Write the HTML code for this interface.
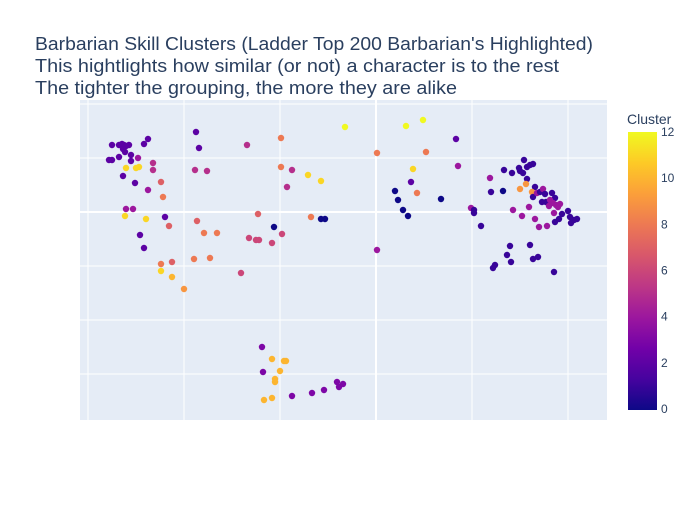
<!DOCTYPE html>
<html><head><meta charset="utf-8">
<style>
body{margin:0;background:#fff;}
svg text{font-family:"Liberation Sans",sans-serif;}
</style></head>
<body>
<svg id="chart" width="700" height="500" xmlns="http://www.w3.org/2000/svg">
<rect width="700" height="500" fill="#fff"/>
<g fill="#2a3f5f" font-size="18">
<text x="35" y="50" textLength="558" lengthAdjust="spacingAndGlyphs">Barbarian Skill Clusters (Ladder Top 200 Barbarian's Highlighted)</text>
<text x="35" y="72" textLength="524" lengthAdjust="spacingAndGlyphs">This hightlights how similar (or not) a character is to the rest</text>
<text x="35" y="94" textLength="422" lengthAdjust="spacingAndGlyphs">The tighter the grouping, the more they are alike</text>
</g>
<rect x="80" y="100" width="527" height="320" fill="#e5ecf6"/>
<g id="grid"></g>
<g id="points"></g>
<g id="colorbar"></g>
</svg>
<script>
const xs=[108,111,159,24,31,34,36,41,38,60,56,35,37,43,31,21,24,43,50,65,65,38,48,51,35,47,73,60,75,107,119,38,45,37,58,77,81,109,116,129,170,161,168,171,52,56,73,84,106,122,73,84,96,153,
257,318,335,368,193,289,338,193,204,370,220,233,325,199,323,307,329,310,353,315,320,223,233,237,186,194,184,289,
174,184,196,198,175,192,187,187,176,184,204,224,236,249,251,255,
402,416,424,431,432,435,436,439,442,445,439,438,432,403,415,447,444,445,449,452,455,457,454,458,464,467,462,465,468,470,461,472,383,386,386,425,441,434,447,466,474,480,471,467,482,486,489,483,451,459,393,422,442,419,423,445,450,405,407,466];
const ys=[188,172,175,175,175,176,175,175,174,181,176,171,168,165,163,160,160,159,162,157,150,152,152,153,144,137,138,130,123,150,149,111,111,104,101,103,94,99,87,87,106,82,80,80,85,72,56,58,61,62,49,43,31,47,
193,194,200,181,182,167,168,153,150,154,145,139,151,133,138,129,127,120,121,110,104,103,101,101,93,86,77,70,
-27,-39,-41,-41,-52,-51,-59,-62,-80,-78,-76,-73,-70,-62,-67,-64,
142,150,147,152,149,147,160,153,155,156,141,136,131,128,129,133,128,123,127,128,131,126,118,118,127,122,120,117,115,113,114,116,112,110,107,110,113,104,101,107,106,109,101,98,103,100,101,97,93,94,94,74,75,65,58,61,63,52,55,48];
const clusters=[2,2,5,2,2,2,2,2,2,2,2,2,2,2,2,2,2,2,4,5,5,11,11,11,2,2,7,4,8,5,5,4,4,11,11,2,7,7,8,8,7,6,6,6,2,2,8,7,8,8,11,10,9,6,
12,12,12,2,8,8,8,8,5,4,11,11,11,5,2,0,8,0,0,0,0,8,0,0,0,6,6,4,
3,10,10,10,3,10,10,10,10,10,3,3,3,3,3,3,
4,1,1,1,1,1,1,1,1,1,1,9,9,1,0,1,9,1,4,1,4,1,1,1,1,1,4,4,4,4,4,4,4,1,1,4,4,4,4,4,1,1,1,1,1,1,1,1,4,4,1,1,1,1,1,1,1,1,1,1];
const colorTicks=[0,2,4,6,8,10,12];
const xGrid=[0,96,192,288,384,480];
const yGrid=[216,162,108,54,0,-54];
const plasma=["#0d0887","#46039f","#7201a8","#9c179e","#bd3786","#d8576b","#ed7953","#fb9f3a","#fdca26","#f0f921"];
const NS="http://www.w3.org/2000/svg";
function sx(v){return 88+v;}
function sy(v){return 320-v;}
function cy(v){return 409-v*(277/12);}
function hex(h){return [1,3,5].map(i=>parseInt(h.substr(i,2),16));}
function col(c){const t=c/12*(plasma.length-1);const i=Math.min(Math.floor(t),plasma.length-2);const f=t-i;const a=hex(plasma[i]),b=hex(plasma[i+1]);return "rgb("+a.map((v,k)=>Math.round(v+(b[k]-v)*f)).join(",")+")";}
function mk(tag,attrs,parent){const e=document.createElementNS(NS,tag);for(const k in attrs)e.setAttribute(k,attrs[k]);parent.appendChild(e);return e;}
const grid=document.getElementById('grid');
xGrid.forEach(v=>{const l=mk('line',{x1:sx(v),x2:sx(v),y1:100,y2:420,stroke:'#fff','stroke-width':v===288?2:1},grid);

});
yGrid.forEach(v=>{const l=mk('line',{x1:80,x2:607,y1:sy(v),y2:sy(v),stroke:'#fff','stroke-width':v===108?2:1},grid);

});
const pts=document.getElementById('points');
xs.forEach((x,i)=>{const c=mk('circle',{cx:sx(x),cy:sy(ys[i]),r:3.2,fill:col(clusters[i])},pts);

});
const cb=document.getElementById('colorbar');
const defs=mk('defs',{},cb);
const g=mk('linearGradient',{id:'pl',x1:0,y1:1,x2:0,y2:0},defs);
plasma.forEach((c,i)=>mk('stop',{offset:(i/(plasma.length-1)),'stop-color':c},g));
const bar=mk('rect',{x:628,y:132,width:29,height:278,fill:'url(#pl)'},cb);


const ttl=mk('text',{x:627,y:124,'font-size':14,fill:'#2a3f5f'},cb);
ttl.textContent='Cluster';


colorTicks.forEach(v=>{const t=mk('text',{x:661,y:cy(v)+4,'font-size':12,fill:'#2a3f5f'},cb);t.textContent=v;

});
</script>
</body></html>
